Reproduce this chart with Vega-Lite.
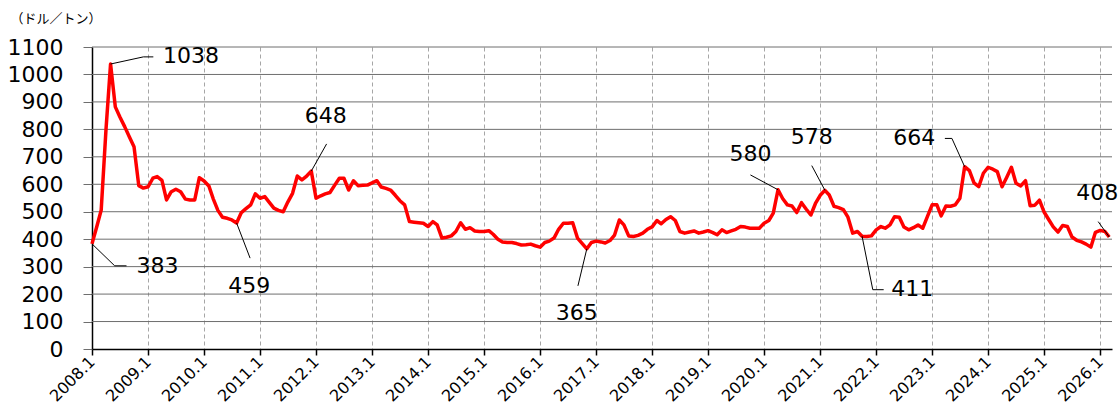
{
  "$schema": "https://vega.github.io/schema/vega-lite/v6.json",
  "width": 1020,
  "height": 302,
  "autosize": "none",
  "padding": {"left": 92, "top": 47, "right": 8, "bottom": 70},
  "background": "white",
  "config": {
    "font": "DejaVu Sans",
    "view": {"stroke": null}
  },
  "datasets": {
    "gridv": [
      {"v":100},{"v":200},{"v":300},{"v":400},{"v":500},{"v":600},{"v":700},{"v":800},{"v":900},{"v":1000},{"v":1100}
    ],
    "price": [
      {"d":"2008-01","v":383},{"d":"2008-02","v":445},{"d":"2008-03","v":506},{"d":"2008-04","v":797},{"d":"2008-05","v":1038},{"d":"2008-06","v":882},{"d":"2008-07","v":845},{"d":"2008-08","v":810},{"d":"2008-09","v":772},{"d":"2008-10","v":737},{"d":"2008-11","v":595},{"d":"2008-12","v":586},
      {"d":"2009-01","v":591},{"d":"2009-02","v":622},{"d":"2009-03","v":628},{"d":"2009-04","v":614},{"d":"2009-05","v":543},{"d":"2009-06","v":573},{"d":"2009-07","v":582},{"d":"2009-08","v":573},{"d":"2009-09","v":546},{"d":"2009-10","v":543},{"d":"2009-11","v":543},{"d":"2009-12","v":624},
      {"d":"2010-01","v":612},{"d":"2010-02","v":594},{"d":"2010-03","v":548},{"d":"2010-04","v":505},{"d":"2010-05","v":480},{"d":"2010-06","v":476},{"d":"2010-07","v":470},{"d":"2010-08","v":459},{"d":"2010-09","v":497},{"d":"2010-10","v":511},{"d":"2010-11","v":525},{"d":"2010-12","v":565},
      {"d":"2011-01","v":549},{"d":"2011-02","v":555},{"d":"2011-03","v":535},{"d":"2011-04","v":513},{"d":"2011-05","v":505},{"d":"2011-06","v":500},{"d":"2011-07","v":535},{"d":"2011-08","v":567},{"d":"2011-09","v":630},{"d":"2011-10","v":616},{"d":"2011-11","v":630},{"d":"2011-12","v":648},
      {"d":"2012-01","v":549},{"d":"2012-02","v":558},{"d":"2012-03","v":565},{"d":"2012-04","v":570},{"d":"2012-05","v":596},{"d":"2012-06","v":622},{"d":"2012-07","v":622},{"d":"2012-08","v":579},{"d":"2012-09","v":613},{"d":"2012-10","v":595},{"d":"2012-11","v":596},{"d":"2012-12","v":597},
      {"d":"2013-01","v":605},{"d":"2013-02","v":613},{"d":"2013-03","v":590},{"d":"2013-04","v":585},{"d":"2013-05","v":579},{"d":"2013-06","v":560},{"d":"2013-07","v":540},{"d":"2013-08","v":525},{"d":"2013-09","v":464},{"d":"2013-10","v":462},{"d":"2013-11","v":460},{"d":"2013-12","v":458},
      {"d":"2014-01","v":446},{"d":"2014-02","v":464},{"d":"2014-03","v":452},{"d":"2014-04","v":404},{"d":"2014-05","v":407},{"d":"2014-06","v":412},{"d":"2014-07","v":428},{"d":"2014-08","v":460},{"d":"2014-09","v":436},{"d":"2014-10","v":442},{"d":"2014-11","v":430},{"d":"2014-12","v":428},
      {"d":"2015-01","v":428},{"d":"2015-02","v":431},{"d":"2015-03","v":418},{"d":"2015-04","v":400},{"d":"2015-05","v":390},{"d":"2015-06","v":388},{"d":"2015-07","v":388},{"d":"2015-08","v":384},{"d":"2015-09","v":379},{"d":"2015-10","v":380},{"d":"2015-11","v":382},{"d":"2015-12","v":376},
      {"d":"2016-01","v":371},{"d":"2016-02","v":388},{"d":"2016-03","v":393},{"d":"2016-04","v":404},{"d":"2016-05","v":436},{"d":"2016-06","v":458},{"d":"2016-07","v":458},{"d":"2016-08","v":460},{"d":"2016-09","v":404},{"d":"2016-10","v":385},{"d":"2016-11","v":365},{"d":"2016-12","v":388},
      {"d":"2017-01","v":393},{"d":"2017-02","v":390},{"d":"2017-03","v":386},{"d":"2017-04","v":395},{"d":"2017-05","v":415},{"d":"2017-06","v":470},{"d":"2017-07","v":452},{"d":"2017-08","v":412},{"d":"2017-09","v":410},{"d":"2017-10","v":414},{"d":"2017-11","v":422},{"d":"2017-12","v":436},
      {"d":"2018-01","v":445},{"d":"2018-02","v":468},{"d":"2018-03","v":456},{"d":"2018-04","v":472},{"d":"2018-05","v":482},{"d":"2018-06","v":468},{"d":"2018-07","v":428},{"d":"2018-08","v":422},{"d":"2018-09","v":426},{"d":"2018-10","v":430},{"d":"2018-11","v":422},{"d":"2018-12","v":426},
      {"d":"2019-01","v":431},{"d":"2019-02","v":424},{"d":"2019-03","v":416},{"d":"2019-04","v":434},{"d":"2019-05","v":424},{"d":"2019-06","v":430},{"d":"2019-07","v":436},{"d":"2019-08","v":446},{"d":"2019-09","v":444},{"d":"2019-10","v":440},{"d":"2019-11","v":440},{"d":"2019-12","v":440},
      {"d":"2020-01","v":458},{"d":"2020-02","v":468},{"d":"2020-03","v":495},{"d":"2020-04","v":580},{"d":"2020-05","v":548},{"d":"2020-06","v":525},{"d":"2020-07","v":521},{"d":"2020-08","v":497},{"d":"2020-09","v":533},{"d":"2020-10","v":510},{"d":"2020-11","v":488},{"d":"2020-12","v":530},
      {"d":"2021-01","v":560},{"d":"2021-02","v":578},{"d":"2021-03","v":561},{"d":"2021-04","v":520},{"d":"2021-05","v":515},{"d":"2021-06","v":508},{"d":"2021-07","v":480},{"d":"2021-08","v":422},{"d":"2021-09","v":428},{"d":"2021-10","v":411},{"d":"2021-11","v":410},{"d":"2021-12","v":412},
      {"d":"2022-01","v":434},{"d":"2022-02","v":446},{"d":"2022-03","v":440},{"d":"2022-04","v":452},{"d":"2022-05","v":482},{"d":"2022-06","v":480},{"d":"2022-07","v":444},{"d":"2022-08","v":434},{"d":"2022-09","v":442},{"d":"2022-10","v":452},{"d":"2022-11","v":440},{"d":"2022-12","v":482},
      {"d":"2023-01","v":525},{"d":"2023-02","v":525},{"d":"2023-03","v":485},{"d":"2023-04","v":521},{"d":"2023-05","v":520},{"d":"2023-06","v":525},{"d":"2023-07","v":549},{"d":"2023-08","v":664},{"d":"2023-09","v":650},{"d":"2023-10","v":605},{"d":"2023-11","v":591},{"d":"2023-12","v":640},
      {"d":"2024-01","v":662},{"d":"2024-02","v":655},{"d":"2024-03","v":646},{"d":"2024-04","v":591},{"d":"2024-05","v":625},{"d":"2024-06","v":662},{"d":"2024-07","v":604},{"d":"2024-08","v":594},{"d":"2024-09","v":613},{"d":"2024-10","v":522},{"d":"2024-11","v":524},{"d":"2024-12","v":542},
      {"d":"2025-01","v":498},{"d":"2025-02","v":470},{"d":"2025-03","v":445},{"d":"2025-04","v":426},{"d":"2025-05","v":450},{"d":"2025-06","v":446},{"d":"2025-07","v":408},{"d":"2025-08","v":396},{"d":"2025-09","v":390},{"d":"2025-10","v":382},{"d":"2025-11","v":371},{"d":"2025-12","v":425},
      {"d":"2026-01","v":432},{"d":"2026-02","v":428},{"d":"2026-03","v":408}
    ],
    "leader": [
      {"g":1,"o":1,"d":"2008-05-01","v":1038},{"g":1,"o":2,"d":"2008-12-01","v":1064},{"g":1,"o":3,"d":"2009-02-04","v":1064},
      {"g":2,"o":1,"d":"2008-01-01","v":383},{"g":2,"o":2,"d":"2008-05-28","v":303},{"g":2,"o":3,"d":"2008-08-13","v":303},
      {"g":3,"o":1,"d":"2010-08-01","v":459},{"g":3,"o":2,"d":"2010-10-28","v":331},
      {"g":4,"o":1,"d":"2011-12-01","v":648},{"g":4,"o":2,"d":"2012-03-10","v":747},
      {"g":5,"o":1,"d":"2016-11-01","v":365},{"g":5,"o":2,"d":"2016-09-04","v":230},
      {"g":6,"o":1,"d":"2020-04-01","v":580},{"g":6,"o":2,"d":"2019-10-04","v":634},
      {"g":7,"o":1,"d":"2021-02-01","v":578},{"g":7,"o":2,"d":"2020-11-07","v":668},
      {"g":8,"o":1,"d":"2021-10-01","v":411},{"g":8,"o":2,"d":"2021-12-10","v":216},{"g":8,"o":3,"d":"2022-02-19","v":216},
      {"g":9,"o":1,"d":"2023-08-01","v":664},{"g":9,"o":2,"d":"2023-05-10","v":767},{"g":9,"o":3,"d":"2023-03-25","v":767},
      {"g":10,"o":1,"d":"2026-03-01","v":408},{"g":10,"o":2,"d":"2025-12-19","v":464}
    ],
    "labels": [
      {"t":"1038","d":"2009-10-08","v":1067},
      {"t":"383","d":"2009-03-03","v":303},
      {"t":"459","d":"2010-10-23","v":230},
      {"t":"648","d":"2012-03-04","v":850},
      {"t":"365","d":"2016-08-28","v":132},
      {"t":"580","d":"2019-10-04","v":710},
      {"t":"578","d":"2020-11-07","v":774},
      {"t":"411","d":"2022-08-24","v":219},
      {"t":"664","d":"2022-09-06","v":770},
      {"t":"408","d":"2025-12-13","v":570}
    ]
  },
  "encoding": {
    "y": {
      "field": "v", "type": "quantitative",
      "scale": {"domain": [0, 1100], "nice": false},
      "axis": {
        "title": "（ドル／トン）",
        "titleAngle": 0, "titleX": -82, "titleY": -29, "titleAlign": "left", "titleBaseline": "middle",
        "titleFont": "Noto Sans CJK JP", "titleFontSize": 13, "titleFontWeight": "normal", "titleColor": "black",
        "values": [0, 100, 200, 300, 400, 500, 600, 700, 800, 900, 1000, 1100],
        "labelExpr": "replace(datum.label, ',', '')",
        "labelFontSize": 22, "labelColor": "black", "labelPadding": 20,
        "tickSize": 9, "tickColor": "#6e6e6e",
        "domainColor": "black", "domainWidth": 1.5,
        "grid": false
      }
    }
  },
  "layer": [
    {
      "data": {"name": "gridv"},
      "mark": {"type": "rule", "color": "#6e6e6e", "strokeWidth": 1}
    },
    {
      "encoding": {
        "x": {
          "field": "d", "type": "temporal",
          "scale": {"type": "utc", "domain": [{"year": 2008, "month": 1, "date": 1, "utc": true}, {"year": 2026, "month": 3, "date": 19, "utc": true}]},
          "axis": {
            "title": null,
            "tickCount": {"interval": "year", "step": 1},
            "labelExpr": "utcFormat(datum.value, '%Y.%-m')",
            "labelAngle": -45, "labelAlign": "right", "labelBaseline": "middle",
            "labelFontSize": 16, "labelColor": "black", "labelPadding": 4,
            "labelFlush": false, "labelOverlap": false, "labelBound": false,
            "tickColor": "black", "tickSize": 6, "tickWidth": 1.5,
            "domainColor": "black", "domainWidth": 1.5,
            "grid": true, "gridDash": [4, 3], "gridColor": "#a6a6a6", "gridWidth": 1
          }
        }
      },
      "layer": [
        {
          "data": {"name": "price"},
          "mark": {"type": "line", "color": "#ff0000", "strokeWidth": 3.5, "strokeJoin": "round"}
        },
        {
          "data": {"name": "leader"},
          "mark": {"type": "line", "color": "black", "strokeWidth": 1},
          "encoding": {
            "detail": {"field": "g", "type": "nominal"},
            "order": {"field": "o", "type": "quantitative"}
          }
        },
        {
          "data": {"name": "labels"},
          "mark": {"type": "text", "fontSize": 22, "align": "center", "baseline": "middle", "color": "black"},
          "encoding": {
            "text": {"field": "t", "type": "nominal"}
          }
        }
      ]
    }
  ]
}
